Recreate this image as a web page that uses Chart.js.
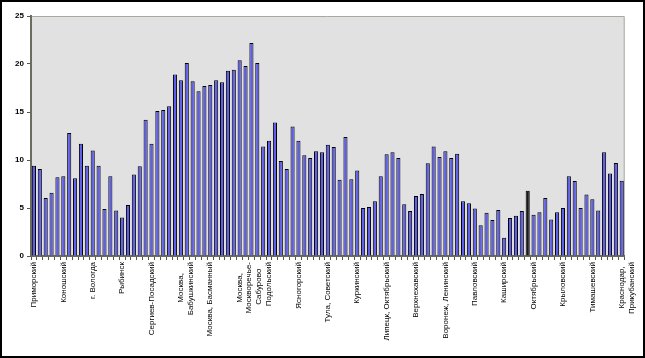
<!DOCTYPE html>
<html>
<head>
<meta charset="utf-8">
<script src="https://cdn.jsdelivr.net/npm/chart.js@4/dist/chart.umd.min.js"></script>
<style>
  html, body { margin: 0; padding: 0; background: #fff; }
  #frame {
    width: 645px; height: 358px; box-sizing: border-box;
    border: 2px solid #000; background: #fff;
  }
  #chart { display: block; }
</style>
</head>
<body>
<div id="frame"><canvas id="chart" width="641" height="354"></canvas></div>
<script>
// ===========================
// DATA
// ===========================
// every 5th district is labelled on the axis
const labelledDistricts = [
  "Приморский", "Коношский", "г. Вологда", "Рыбинск", "Сергиев-Посадский",
  ["Москва,", "Бабушкинский"], "Москва, Басманный",
  ["Москва,", "Москворечье-", "Сабурово"], "Подольский", "Ясногорский",
  "Тула, Советский", "Куркинский", "Липецк, Октябрьский", "Верхнехавский",
  "Воронеж, Ленинский", "Павловский", "Каширский", "Октябрьский",
  "Крыловский", "Тимашевский", ["Краснодар,", "Прикубанский"]
];

const values = [
  9.4, 9.05, 6.05, 6.6, 8.2, 8.3, 12.8, 8.1, 11.7, 9.4,
  11.0, 9.4, 4.9, 8.3, 4.75, 4.0, 5.3, 8.5, 9.35, 14.2,
  11.7, 15.1, 15.2, 15.6, 18.9, 18.3, 20.1, 18.2, 17.15, 17.7,
  17.8, 18.3, 18.1, 19.3, 19.4, 20.4, 19.8, 22.2, 20.1, 11.4,
  12.0, 13.9, 9.9, 9.05, 13.5, 12.0, 10.5, 10.2, 10.9, 10.8,
  11.6, 11.35, 7.95, 12.4, 8.0, 8.9, 5.0, 5.1, 5.7, 8.3,
  10.6, 10.8, 10.2, 5.4, 4.7, 6.25, 6.45, 9.65, 11.4, 10.3,
  10.9, 10.2, 10.65, 5.7, 5.5, 4.95, 3.2, 4.5, 3.75, 4.8,
  1.9, 3.95, 4.2, 4.7, 6.8, 4.3, 4.55, 6.05, 3.8, 4.55,
  5.0, 8.3, 7.8, 5.0, 6.4, 5.9, 4.75, 10.8, 8.6, 9.7,
  7.85
];

const yMin = 0, yMax = 25, yStep = 5;
const LABEL_EVERY = 5;
const LABEL_FONT = "8px 'Liberation Sans'";

// multi-line names are centred line by line (labels are right-aligned
// at the axis once rotated, so shorter lines get trailing spaces)
const measure = document.createElement("canvas").getContext("2d");
measure.font = LABEL_FONT;
function centreLines(label) {
  if (!Array.isArray(label)) return label;
  const widths = label.map(l => measure.measureText(l).width);
  const longest = Math.max(...widths);
  const space = measure.measureText(" ").width;
  return label.map((l, i) => l + " ".repeat(Math.round((longest - widths[i]) / 2 / space)));
}

// category labels: only every 5th bar carries a name
const categories = values.map((v, i) =>
  i % LABEL_EVERY === 0 ? centreLines(labelledDistricts[i / LABEL_EVERY]) : ""
);

// ===========================
// PLOT BACKGROUND
// ===========================
const plotBg = {
  id: "plotBg",
  beforeDraw(chart) {
    const { ctx, chartArea: a } = chart;
    ctx.save();
    ctx.fillStyle = "#e1e1e1";
    ctx.fillRect(a.left, a.top, a.right - a.left, a.bottom - a.top);
    ctx.strokeStyle = "#a8a8a0";
    ctx.lineWidth = 1;
    ctx.beginPath();
    ctx.moveTo(a.left, a.top + 0.5);
    ctx.lineTo(a.right - 0.5, a.top + 0.5);
    ctx.lineTo(a.right - 0.5, a.bottom);
    ctx.stroke();
    ctx.restore();
  }
};

// ===========================
// CHART
// ===========================
new Chart(document.getElementById("chart"), {
  type: "bar",
  data: {
    labels: categories,
    datasets: [{
      data: values,
      backgroundColor: ctx => ctx.dataIndex === 84 ? "#1a1a1a" : "#5f5fec",
      borderColor: "#000",
      borderWidth: 1,
      barPercentage: 0.7,
      categoryPercentage: 1
    }]
  },
  options: {
    responsive: false,
    animation: false,
    events: [],
    layout: { padding: { top: 14, right: 12, left: 0, bottom: 0 } },
    plugins: {
      legend: { display: false },
      tooltip: { enabled: false }
    },
    scales: {
      x: {
        grid: {
          display: true, drawOnChartArea: false, drawTicks: true,
          tickLength: 4, color: "#555", offset: true
        },
        border: { display: true, color: "#6b6b60", width: 2 },
        ticks: {
          autoSkip: false, minRotation: 90, maxRotation: 90,
          padding: 2, color: "#000",
          font: { family: "Liberation Sans", size: 8 }
        },
        afterFit: s => { s.height = 100; }
      },
      y: {
        min: yMin, max: yMax,
        grid: {
          display: true, drawOnChartArea: false, drawTicks: true,
          tickLength: 4, color: "#555"
        },
        border: { display: true, color: "#6b6b60", width: 2 },
        ticks: {
          stepSize: yStep, padding: 3, color: "#000",
          font: { family: "Liberation Sans", size: 8, weight: "bold" }
        },
        afterFit: s => { s.width = 29; }
      }
    }
  },
  plugins: [plotBg]
});
</script>
</body>
</html>
